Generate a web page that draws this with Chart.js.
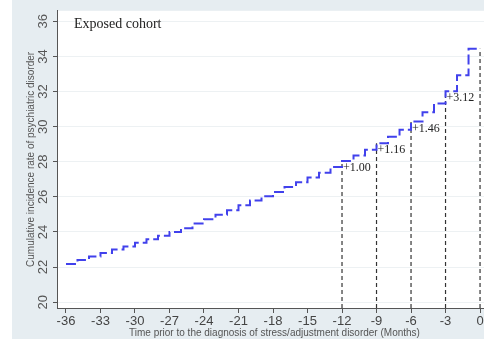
<!DOCTYPE html>
<html>
<head>
<meta charset="utf-8">
<script src="https://cdn.jsdelivr.net/npm/chart.js@4/dist/chart.umd.min.js"></script>
<style>
  html, body { margin: 0; padding: 0; overflow: hidden; background: #fff; }
  #wrap { width: 492px; height: 341px; }
</style>
</head>
<body>
<div id="wrap"><canvas id="incidenceChart" width="492" height="341"></canvas></div>
<script>
// monthly cumulative incidence (value holds from month to month+1)
const months = [-36, -35, -34, -33, -32, -31, -30, -29, -28, -27, -26, -25,
                -24, -23, -22, -21, -20, -19, -18, -17, -16, -15, -14, -13,
                -12, -11, -10, -9, -8, -7, -6, -5, -4, -3, -2, -1, 0];
const incidence = [22.18, 22.41, 22.61, 22.81, 23.00, 23.18, 23.39, 23.59, 23.78, 24.00, 24.22, 24.48,
                   24.72, 24.98, 25.24, 25.52, 25.79, 26.04, 26.28, 26.56, 26.84, 27.10, 27.38, 27.70,
                   28.05, 28.36, 28.68, 29.05, 29.42, 29.82, 30.30, 30.82, 31.32, 32.02, 32.93, 34.44, 34.44];

// marked months with the dashed drop lines and their increments
const markMonths = [-12, -9, -6, -3, 0];
const markLabels = ['+1.00', '+1.16', '+1.46', '+3.12', ''];

const xTicks = [-36, -33, -30, -27, -24, -21, -18, -15, -12, -9, -6, -3, 0];
const yTicks = [20, 22, 24, 26, 28, 30, 32, 34, 36];

const xMin = -36.78, xMax = 1.04;
const yMin = 19.67, yMax = 36.6;

function valueAt(m) {
    const i = months.indexOf(m);
    return incidence[i];
}

const stepData = months.map((m, i) => ({ x: m, y: incidence[i] }));

const dropSets = markMonths.map(m => ({
    data: [{ x: m, y: yMin }, { x: m, y: valueAt(m) }],
    borderColor: '#333',
    borderWidth: 1.2,
    borderDash: [4, 3],
    pointRadius: 0,
    fill: false
}));

const decor = {
    id: 'decor',
    beforeDraw(chart) {
        const c = chart.ctx, a = chart.chartArea;
        c.save();
        c.fillStyle = '#e6edf1';
        c.fillRect(12, 0, chart.width - 12, 339);
        c.fillStyle = '#ffffff';
        c.fillRect(a.left, a.top, a.right - a.left, a.bottom - a.top);
        c.restore();
    },
    afterDraw(chart) {
        const c = chart.ctx, a = chart.chartArea;
        const xs = chart.scales.x, ys = chart.scales.y;
        c.save();
        // rotated y tick labels
        c.fillStyle = '#555';
        c.font = '13px "Liberation Sans", Arial, sans-serif';
        c.textAlign = 'center';
        c.textBaseline = 'middle';
        yTicks.forEach(v => {
            c.save();
            c.translate(43, ys.getPixelForValue(v));
            c.rotate(-Math.PI / 2);
            c.fillText(String(v), 0, 0);
            c.restore();
        });
        // increment labels
        c.fillStyle = '#222';
        c.font = '12px "Liberation Serif", "Times New Roman", serif';
        c.textAlign = 'left';
        markMonths.forEach((m, i) => {
            if (!markLabels[i]) return;
            c.fillText(markLabels[i], xs.getPixelForValue(m) + 1, ys.getPixelForValue(valueAt(m)) + 7);
        });
        // panel title
        c.fillStyle = '#222';
        c.font = '14px "Liberation Serif", "Times New Roman", serif';
        c.textBaseline = 'alphabetic';
        c.fillText('Exposed cohort', a.left + 17, 28);
        c.restore();
    }
};

const ctx = document.getElementById('incidenceChart').getContext('2d');
const incidenceChart = new Chart(ctx, {
    type: 'line',
    data: {
        datasets: [{
            data: stepData,
            stepped: 'before',
            borderColor: '#4141ec',
            borderWidth: 2,
            borderDash: [10, 4],
            pointRadius: 0,
            fill: false
        }].concat(dropSets)
    },
    options: {
        responsive: false,
        animation: false,
        layout: { padding: { left: 12, top: 4, right: 0, bottom: 2 } },
        plugins: { legend: { display: false }, tooltip: { enabled: false } },
        scales: {
            x: {
                type: 'linear',
                min: xMin,
                max: xMax,
                afterBuildTicks: s => { s.ticks = xTicks.map(v => ({ value: v })); },
                afterFit: s => { s.height = 31; },
                border: { color: '#555', width: 1 },
                grid: { drawOnChartArea: false, tickLength: 5, tickColor: '#555' },
                ticks: {
                    color: '#444',
                    padding: 1,
                    maxRotation: 0,
                    autoSkip: false,
                    font: { family: '"Liberation Sans", Arial, sans-serif', size: 13 }
                },
                title: {
                    display: true,
                    text: 'Time prior to the diagnosis of stress/adjustment disorder (Months)',
                    color: '#555',
                    padding: 0,
                    font: { family: '"Liberation Sans", Arial, sans-serif', size: 10 }
                }
            },
            y: {
                type: 'linear',
                min: yMin,
                max: yMax,
                afterBuildTicks: s => { s.ticks = yTicks.map(v => ({ value: v })); },
                afterFit: s => { s.width = 45; },
                border: { color: '#555', width: 1 },
                grid: { color: '#edf1f3', tickLength: 4, tickColor: '#555' },
                ticks: { color: 'rgba(0,0,0,0)', font: { size: 13 } },
                title: {
                    display: true,
                    text: 'Cumulative incidence rate of psychiatric disorder',
                    color: '#555',
                    padding: { top: 13 },
                    font: { family: '"Liberation Sans", Arial, sans-serif', size: 10 }
                }
            }
        }
    },
    plugins: [decor]
});
</script>
</body>
</html>
